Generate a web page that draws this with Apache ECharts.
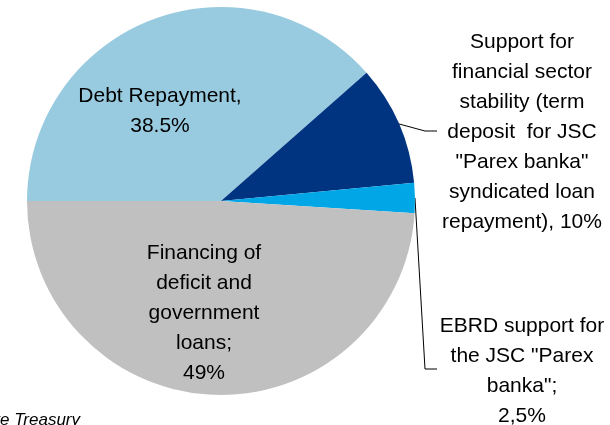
<!DOCTYPE html>
<html>
<head>
<meta charset="utf-8">
<script src="https://cdn.jsdelivr.net/npm/echarts@6/dist/echarts.min.js"></script>
<style>
  html, body { margin: 0; padding: 0; background: #fff; }
  #chart { width: 610px; height: 425px; }
</style>
</head>
<body>
<div id="chart"></div>
<script>
var names = [
  'Debt Repayment,',
  'Support for\nfinancial sector\nstability (term\ndeposit  for JSC\n"Parex banka"\nsyndicated loan\nrepayment),',
  'EBRD support for\nthe JSC "Parex\nbanka";',
  'Financing of\ndeficit and\ngovernment\nloans;'
];
var values = [38.5, 10, 2.5, 49];
var pctLabels = ['38.5%', '10%', '2,5%', '49%'];
var joiners = ['\n', ' ', '\n', '\n'];
var colors = ['#99cbe0', '#003380', '#00a6e6', '#c0c0c0'];

(function() {
  var myChart = echarts.init(document.getElementById('chart'));

  // where each label sits (centre of the text block), and leader line bends
  var labelPos = [
    { x: 160, y: 111 },
    { x: 522, y: 132, line: [[425, 131], [437, 131]] },
    { x: 522, y: 371, line: [[425, 369], [437, 369]] },
    { x: 204, y: 313 }
  ];

  var data = values.map(function(v, i) {
    var outside = !!labelPos[i].line;
    return {
      name: names[i],
      value: v,
      itemStyle: { color: colors[i] },
      label: { show: true, position: outside ? 'outside' : 'inside' },
      labelLine: { show: outside, lineStyle: { color: '#000', width: 1 } }
    };
  });

  var option = {
    animation: false,
    series: [{
      type: 'pie',
      center: [221, 201],
      radius: [0, 194],
      startAngle: 180,
      clockwise: true,
      avoidLabelOverlap: false,
      silent: true,
      itemStyle: { borderWidth: 0 },
      label: {
        color: '#000',
        fontFamily: 'Liberation Sans, Arial, sans-serif',
        fontSize: 21,
        lineHeight: 30,
        align: 'center',
        formatter: function(p) {
          return names[p.dataIndex] + joiners[p.dataIndex] + pctLabels[p.dataIndex];
        }
      },
      labelLayout: function(params) {
        var pos = labelPos[params.dataIndex];
        var res = { x: pos.x, y: pos.y, align: 'center', verticalAlign: 'middle' };
        if (pos.line && params.labelLinePoints) {
          res.labelLinePoints = [params.labelLinePoints[0]].concat(pos.line);
        }
        return res;
      },
      data: data
    }],
    graphic: [{
      type: 'text',
      right: 530,
      top: 412,
      style: {
        text: 'Source: State Treasury',
        font: 'italic 17px "Liberation Sans", Arial, sans-serif',
        fill: '#000'
      }
    }]
  };

  myChart.setOption(option);
  window.addEventListener('resize', function() {
    myChart.resize();
  });
})();
</script>
</body>
</html>
